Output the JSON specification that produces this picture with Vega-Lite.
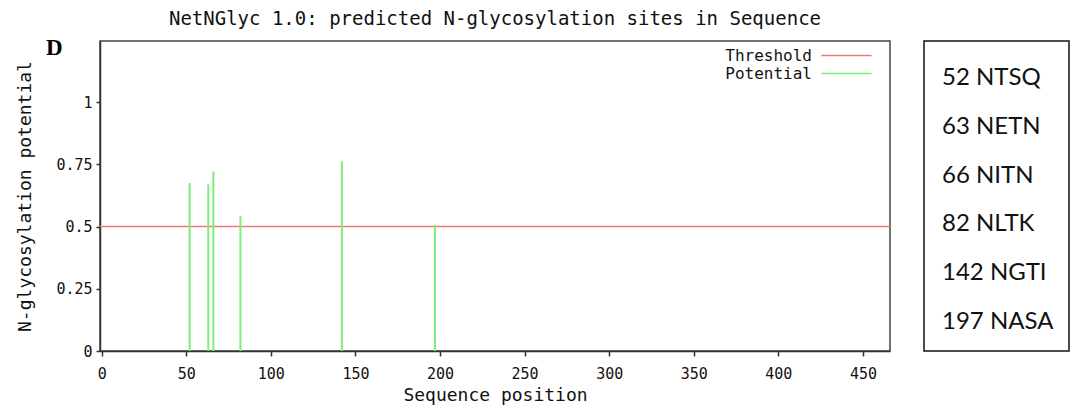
{
  "$schema": "https://vega.github.io/schema/vega-lite/v6.json",
  "padding": {"left": 16, "top": 9, "right": 1, "bottom": 0},
  "background": "white",
  "datasets": {
    "sites": [
      {"pos": 52, "potential": 0.675, "series": "Potential", "label": "52 NTSQ"},
      {"pos": 63, "potential": 0.669, "series": "Potential", "label": "63 NETN"},
      {"pos": 66, "potential": 0.721, "series": "Potential", "label": "66 NITN"},
      {"pos": 82, "potential": 0.542, "series": "Potential", "label": "82 NLTK"},
      {"pos": 142, "potential": 0.762, "series": "Potential", "label": "142 NGTI"},
      {"pos": 197, "potential": 0.507, "series": "Potential", "label": "197 NASA"}
    ],
    "threshold": [{"value": 0.5, "series": "Threshold"}],
    "panel": [{"label": "D"}]
  },
  "hconcat": [
    {
      "width": 790,
      "height": 310,
      "view": {"stroke": "#444", "strokeWidth": 1.5},
      "title": {
        "text": "NetNGlyc 1.0: predicted N-glycosylation sites in Sequence",
        "font": "DejaVu Sans Mono",
        "fontSize": 19,
        "fontWeight": "normal",
        "color": "#111",
        "anchor": "middle",
        "offset": 8
      },
      "layer": [
        {
          "data": {"name": "threshold"},
          "mark": {"type": "rule", "strokeWidth": 1.6},
          "encoding": {
            "y": {"field": "value", "type": "quantitative"},
            "color": {"field": "series", "type": "nominal"}
          }
        },
        {
          "data": {"name": "sites"},
          "mark": {"type": "rule", "strokeWidth": 2},
          "encoding": {
            "x": {"field": "pos", "type": "quantitative"},
            "y": {"field": "potential", "type": "quantitative"},
            "y2": {"datum": 0},
            "color": {"field": "series", "type": "nominal"}
          }
        },
        {
          "data": {"name": "panel"},
          "mark": {"type": "text", "font": "Liberation Serif", "fontWeight": "bold", "fontSize": 23, "color": "black", "align": "center", "baseline": "middle"},
          "encoding": {
            "x": {"datum": -28},
            "y": {"datum": 1.215},
            "text": {"field": "label"}
          }
        }
      ],
      "encoding": {
        "x": {
          "type": "quantitative",
          "scale": {"domain": [-1, 466], "nice": false, "zero": false},
          "axis": {
            "title": "Sequence position",
            "values": [0, 50, 100, 150, 200, 250, 300, 350, 400, 450],
            "grid": false,
            "tickSize": 5,
            "labelPadding": 10,
            "titlePadding": 5
          }
        },
        "y": {
          "type": "quantitative",
          "scale": {"domain": [0, 1.245], "nice": false},
          "axis": {
            "title": "N-glycosylation potential",
            "values": [0, 0.25, 0.5, 0.75, 1],
            "format": "~g",
            "grid": false,
            "tickSize": 4,
            "labelPadding": 4,
            "titlePadding": 21
          }
        },
        "color": {
          "type": "nominal",
          "scale": {"domain": ["Threshold", "Potential"], "range": ["#f07878", "#7ded7d"]},
          "legend": {
            "title": null,
            "orient": "none",
            "legendX": 737,
            "legendY": 5,
            "symbolType": "M-3,0H3",
            "symbolSize": 280,
            "symbolStrokeWidth": 1.6,
            "labelAlign": "right",
            "labelOffset": -44,
            "labelFont": "DejaVu Sans Mono",
            "labelFontSize": 16,
            "labelColor": "#111",
            "rowPadding": 0,
            "padding": 0
          }
        }
      }
    },
    {
      "width": 145,
      "height": 310,
      "view": {"stroke": "#111", "strokeWidth": 1.5},
      "data": {"name": "sites"},
      "mark": {"type": "text", "font": "Lato", "fontSize": 24, "color": "#111", "align": "left", "baseline": "middle", "dx": 18, "dy": 4},
      "encoding": {
        "x": {"datum": 0, "scale": {"domain": [0, 1]}, "axis": null},
        "y": {"field": "label", "type": "nominal", "sort": null, "scale": {"type": "point", "padding": 0.68}, "axis": null},
        "text": {"field": "label"}
      }
    }
  ],
  "spacing": 34,
  "bounds": "flush",
  "config": {
    "axis": {
      "domainColor": "#333",
      "domainWidth": 1.5,
      "tickColor": "#333",
      "tickWidth": 1.5,
      "labelFont": "DejaVu Sans Mono",
      "labelFontSize": 15,
      "labelColor": "#111",
      "titleFont": "DejaVu Sans Mono",
      "titleFontSize": 18,
      "titleFontWeight": "normal",
      "titleColor": "#111"
    }
  }
}
